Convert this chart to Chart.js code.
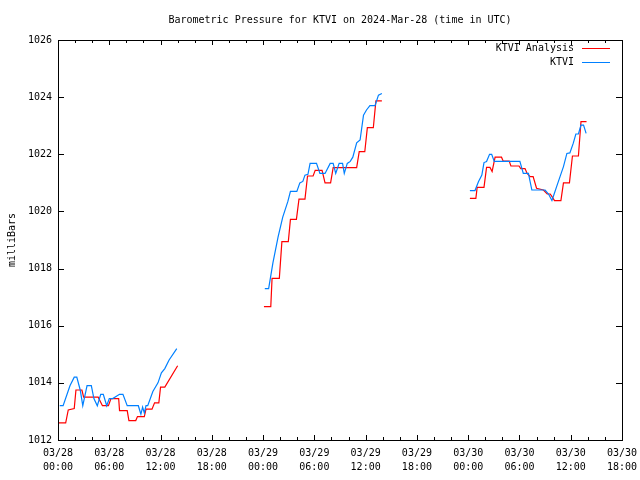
<!DOCTYPE html>
<html>
<head>
<meta charset="utf-8">
<script src="https://cdn.jsdelivr.net/npm/chart.js@4.4.1/dist/chart.umd.min.js"></script>
<style>
  html, body { margin: 0; padding: 0; background: #ffffff; }
  #wrap { width: 640px; height: 480px; }
</style>
</head>
<body>
<div id="wrap"><canvas id="c" width="640" height="480"></canvas></div>
<script>
// ---- Data (hours since 03/28 00:00 UTC, pressure in millibars; null = gap) ----
const analysisHours = [
  0, 0.9, 1.2, 1.9, 2.1, 2.8, 3.0, 4.7, 5.2, 5.9, 6.2, 7.1, 7.2, 8.1, 8.3, 9.1, 9.3, 10.1, 10.3, 11.0, 11.3, 11.8, 12.0, 12.5, 14.0,
  19,
  24.1, 24.9, 25.05, 25.9, 26.2, 26.95, 27.2, 27.9, 28.2, 28.9, 29.2, 29.85, 30.1, 30.9, 31.25, 31.9, 32.2, 34.95, 35.25, 35.9, 36.2, 36.9, 37.2, 37.9,
  43,
  48.2, 48.9, 49.05, 49.85, 50.15, 50.55, 50.8, 51.15, 51.9, 52.1, 52.8, 53.0, 53.95, 54.15, 54.65, 54.9, 55.25, 55.6, 56.0, 56.8, 57.25, 57.6, 57.85, 58.1, 58.85, 59.15, 59.85, 60.2, 60.9, 61.2, 61.85
];
const analysisValues = [
  1012.6, 1012.6, 1013.05, 1013.1, 1013.75, 1013.75, 1013.5, 1013.5, 1013.2, 1013.2, 1013.45, 1013.45, 1013.03, 1013.03, 1012.68, 1012.68, 1012.82, 1012.82, 1013.08, 1013.08, 1013.3, 1013.3, 1013.85, 1013.85, 1014.6,
  null,
  1016.67, 1016.67, 1017.66, 1017.66, 1018.94, 1018.94, 1019.72, 1019.72, 1020.43, 1020.43, 1021.24, 1021.24, 1021.44, 1021.44, 1021.0, 1021.0, 1021.53, 1021.53, 1022.09, 1022.09, 1022.93, 1022.93, 1023.87, 1023.87,
  null,
  1020.46, 1020.46, 1020.84, 1020.84, 1021.54, 1021.54, 1021.4, 1021.9, 1021.9, 1021.76, 1021.76, 1021.59, 1021.59, 1021.5, 1021.5, 1021.33, 1021.22, 1021.22, 1020.81, 1020.75, 1020.61, 1020.61, 1020.5, 1020.38, 1020.38, 1021.0, 1021.0, 1021.94, 1021.94, 1023.14, 1023.14
];
const observedHours = [
  0.2, 0.6, 1.4, 1.9, 2.2, 2.6, 2.9, 3.4, 3.9, 4.2, 4.6, 5.0, 5.3, 5.7, 6.0, 6.4, 7.2, 7.6, 8.1, 9.4, 9.7, 9.9, 10.1, 10.3, 10.5, 11.1, 11.7, 12.1, 12.5, 13.0, 13.9,
  19,
  24.2, 24.65, 25.15, 25.75, 26.3, 26.9, 27.2, 27.95, 28.3, 28.65, 28.9, 29.25, 29.5, 30.25, 30.65, 31.25, 31.85, 32.2, 32.5, 32.9, 33.3, 33.5, 33.85, 34.2, 34.5, 34.95, 35.35, 35.75, 36.1, 36.5, 37.1, 37.5, 37.9,
  43,
  48.2, 48.8, 49.2, 49.6, 49.85, 50.15, 50.5, 50.75, 51.05, 54.05, 54.45, 55.05, 55.45, 57.0, 57.4, 57.8, 58.05, 58.35, 58.75, 59.15, 59.55, 59.9, 60.3, 60.6, 60.9, 61.2, 61.5, 61.8
];
const observedValues = [
  1013.2, 1013.2, 1013.9, 1014.2, 1014.2, 1013.75, 1013.2, 1013.9, 1013.9, 1013.45, 1013.2, 1013.6, 1013.6, 1013.2, 1013.45, 1013.45, 1013.6, 1013.6, 1013.2, 1013.2, 1012.9, 1013.15, 1012.95, 1013.2, 1013.2, 1013.7, 1014.0, 1014.35, 1014.5, 1014.8, 1015.2,
  null,
  1017.3, 1017.3, 1018.2, 1019.1, 1019.8, 1020.35, 1020.7, 1020.7, 1021.0, 1021.05, 1021.27, 1021.3, 1021.68, 1021.68, 1021.33, 1021.33, 1021.68, 1021.68, 1021.33, 1021.68, 1021.68, 1021.33, 1021.68, 1021.75, 1021.9, 1022.4, 1022.5, 1023.37, 1023.55, 1023.7, 1023.7, 1024.07, 1024.13,
  null,
  1020.73, 1020.73, 1021.04, 1021.27, 1021.71, 1021.75, 1022.0, 1022.0, 1021.75, 1021.75, 1021.33, 1021.33, 1020.75, 1020.75, 1020.61, 1020.38, 1020.6, 1020.87, 1021.22, 1021.57, 1022.03, 1022.05, 1022.39, 1022.71, 1022.71, 1023.02, 1023.02, 1022.73
];
const seriesNames = ['KTVI Analysis', 'KTVI'];
const xTickDates = ['03/28', '03/28', '03/28', '03/28', '03/29', '03/29', '03/29', '03/29', '03/30', '03/30', '03/30', '03/30'];
const xTickTimes = ['00:00', '06:00', '12:00', '18:00', '00:00', '06:00', '12:00', '18:00', '00:00', '06:00', '12:00', '18:00'];
const titleText = 'Barometric Pressure for KTVI on 2024-Mar-28 (time in UTC)';
const yAxisTitle = 'milliBars';

// ---- Build ----
const FONT = "'DejaVu Sans Mono', 'Liberation Mono', monospace";
const RED = '#ff0000';
const BLUE = 'rgb(0,128,255)';
function toPoints(hs, vs) { return hs.map((h, i) => ({ x: h, y: vs[i] })); }

const frame = {
  id: 'frame',
  afterDraw(chart) {
    const { ctx, chartArea: a, scales } = chart;
    ctx.save();
    // title centred over the plot area
    ctx.font = '10px ' + FONT;
    ctx.fillStyle = '#000';
    ctx.textAlign = 'center';
    ctx.textBaseline = 'middle';
    ctx.fillText(titleText, (a.left + a.right) / 2, 20);

    ctx.strokeStyle = '#000';
    ctx.lineWidth = 1;
    ctx.beginPath();
    scales.x.ticks.forEach(t => {
      const px = Math.round(scales.x.getPixelForValue(t.value)) + 0.5;
      const len = (t.value % 6 === 0) ? 5 : 3;
      ctx.moveTo(px, a.bottom); ctx.lineTo(px, a.bottom - len);
      ctx.moveTo(px, a.top); ctx.lineTo(px, a.top + len);
    });
    scales.y.ticks.forEach(t => {
      const py = Math.round(scales.y.getPixelForValue(t.value)) + 0.5;
      ctx.moveTo(a.left, py); ctx.lineTo(a.left + 6, py);
      ctx.moveTo(a.right, py); ctx.lineTo(a.right - 6, py);
    });
    ctx.stroke();
    ctx.strokeRect(Math.round(a.left) + 0.5, Math.round(a.top) + 0.5, Math.round(a.right - a.left), Math.round(a.bottom - a.top));
    // legend (gnuplot style: text then sample line)
    ctx.textAlign = 'right';
    chart.data.datasets.forEach((ds, i) => {
      const y = a.top + 8 + i * 14 + 0.5;
      ctx.fillStyle = '#000';
      ctx.fillText(ds.label, a.right - 48, y);
      ctx.strokeStyle = ds.borderColor;
      ctx.beginPath();
      ctx.moveTo(a.right - 40, y); ctx.lineTo(a.right - 12, y);
      ctx.stroke();
    });
    ctx.restore();
  }
};

new Chart(document.getElementById('c'), {
  type: 'line',
  data: {
    datasets: [
      { label: seriesNames[0], data: toPoints(analysisHours, analysisValues), borderColor: RED, backgroundColor: RED, borderWidth: 1.2, pointRadius: 0, spanGaps: false, tension: 0, order: 2 },
      { label: seriesNames[1], data: toPoints(observedHours, observedValues), borderColor: BLUE, backgroundColor: BLUE, borderWidth: 1.2, pointRadius: 0, spanGaps: false, tension: 0, order: 1 }
    ]
  },
  options: {
    responsive: false,
    animation: false,
    devicePixelRatio: 1,
    layout: { padding: { left: 0, right: 18, top: 40, bottom: 0 } },
    plugins: {
      legend: { display: false },
      tooltip: { enabled: false },
      title: { display: false }
    },
    scales: {
      x: {
        type: 'linear', min: 0, max: 66,
        grid: { display: false, drawTicks: false },
        border: { display: false },
        afterFit(s) { s.height = 40; s.paddingLeft = 0; s.paddingRight = 0; },
        ticks: {
          stepSize: 2, autoSkip: false, maxRotation: 0, minRotation: 0, padding: 6,
          color: '#000', font: { family: FONT, size: 10, lineHeight: 1.4 },
          callback(v) { return (v % 6 === 0) ? [xTickDates[v / 6], xTickTimes[v / 6]] : ''; }
        }
      },
      y: {
        min: 1012, max: 1026,
        grid: { display: false, drawTicks: false },
        border: { display: false },
        afterFit(s) { s.width = 58; s.paddingTop = 0; s.paddingBottom = 0; },
        title: { display: true, text: yAxisTitle, color: '#000', font: { family: FONT, size: 10 }, padding: { top: 6, bottom: 0 } },
        ticks: { stepSize: 2, padding: 6, color: '#000', font: { family: FONT, size: 10 }, callback(v) { return String(v); } }
      }
    }
  },
  plugins: [frame]
});
</script>
</body>
</html>
